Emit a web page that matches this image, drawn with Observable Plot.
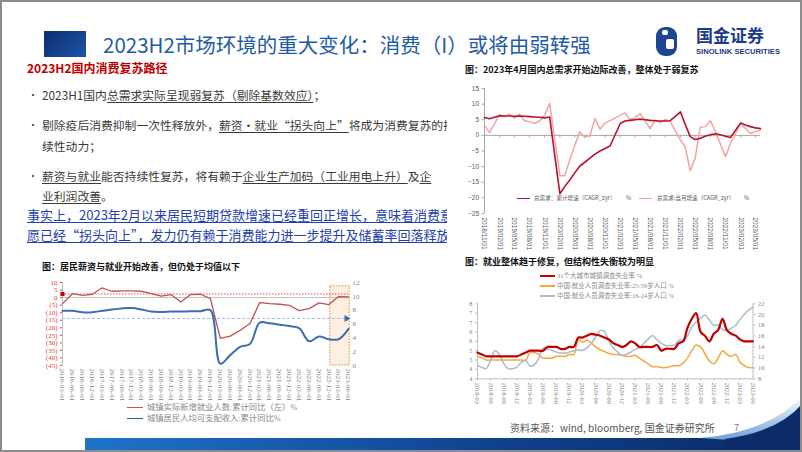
<!DOCTYPE html>
<html><head><meta charset="utf-8">
<script src="https://cdn.jsdelivr.net/npm/d3@7"></script>
<script src="https://cdn.jsdelivr.net/npm/@observablehq/plot@0.6"></script>
<style>
body{margin:0;background:#fff;}
#slide{position:relative;width:802px;height:452px;overflow:hidden;background:#fff;font-family:"Noto Sans CJK SC","Noto Sans",sans-serif;}
.abs{position:absolute;white-space:nowrap;}
.u{text-decoration:underline;text-underline-offset:2px;text-decoration-thickness:1px;}
.bul{color:#3a3a3a;font-size:11.8px;line-height:16px;}
.dot{color:#3a3a3a;font-size:10px;line-height:16px;}
.blue{color:#2340b0;font-size:13px;line-height:18px;}
.ct{font-size:9px;line-height:12px;font-weight:bold;color:#111;}
.lg{font-family:"Liberation Serif","Noto Sans CJK SC",serif;color:#8a8a8a;}
</style></head><body>
<div id="slide">
  <div class="abs" style="left:44px;top:31px;width:42px;height:26px;background:linear-gradient(135deg,#0c2c6e,#1c55a8);"></div>
  <div class="abs" style="left:103px;top:31px;font-size:20.5px;line-height:26px;color:#1f5ba6;">2023H2市场环境的重大变化：消费（I）或将由弱转强</div>
  <svg class="abs" style="left:656px;top:27px" width="22" height="30"><rect x="0" y="0" width="21" height="29" rx="9" fill="#1d4592"/><rect x="10" y="12" width="8" height="10" rx="2" fill="#fff"/><rect x="6" y="3" width="6" height="5" rx="2" fill="#fff"/></svg>
  <div class="abs" style="left:696px;top:24px;font-size:17px;line-height:22px;font-weight:bold;color:#1b3a8a;">国金证券</div>
  <div class="abs" style="left:696px;top:47px;font-family:'Liberation Sans',Arial,sans-serif;font-size:7.6px;line-height:9px;font-weight:bold;color:#1b3a8a;">SINOLINK SECURITIES</div>

  <div class="abs" style="left:27px;top:60px;font-size:12px;line-height:16px;font-weight:bold;color:#c00000;">2023H2国内消费复苏路径</div>
  <div class="abs dot" style="left:28px;top:87px">•</div>
  <div class="abs bul" style="left:42px;top:87px">2023H1国内<span class="u">总需求实际呈现弱复苏（剔除基数效应）</span>；</div>
  <div class="abs dot" style="left:28px;top:117px">•</div>
  <div class="abs bul" style="left:42px;top:117px">剔除疫后消费抑制一次性释放外，<span class="u">薪资•就业“拐头向上”</span>将成为消费复苏的持</div>
  <div class="abs bul" style="left:42px;top:138px">续性动力；</div>
  <div class="abs dot" style="left:28px;top:168px">•</div>
  <div class="abs bul" style="left:42px;top:168px"><span class="u">薪资与就业</span>能否持续性复苏，将有赖于<span class="u">企业生产加码（工业用电上升）</span>及<span class="u">企</span></div>
  <div class="abs bul" style="left:42px;top:188px"><span class="u">业利润改善</span>。</div>
  <div class="abs blue u" style="left:27px;top:206px">事实上，2023年2月以来居民短期贷款增速已经重回正增长，意味着消费意</div>
  <div class="abs blue u" style="left:27px;top:226px">愿已经“拐头向上”，发力仍有赖于消费能力进一步提升及储蓄率回落释放。</div>

  <div class="abs ct" style="left:42px;top:261px">图：居民薪资与就业开始改善，但仍处于均值以下</div>
  <div id="chartL" class="abs" style="left:0px;top:275px"></div>
  <div class="abs" style="left:127px;top:407px;width:16px;height:1.3px;background:#d05050"></div>
  <div class="abs lg" style="left:147px;top:402px;font-size:8.3px;line-height:11px">城镇实际新增就业人数:累计同比（左）%</div>
  <div class="abs" style="left:127px;top:417.5px;width:16px;height:1.8px;background:#2f5f9e"></div>
  <div class="abs lg" style="left:147px;top:413px;font-size:8.3px;line-height:11px">城镇居民人均可支配收入:累计同比%</div>

  <div class="abs" style="left:447px;top:62px;width:355px;height:372px;background:#fff"></div>
  <div class="abs ct" style="left:465px;top:64px">图：2023年4月国内总需求开始边际改善，整体处于弱复苏</div>
  <div id="chartTR" class="abs" style="left:447px;top:78px"></div>
  <div class="abs" style="left:517px;top:197.5px;width:13px;height:1.6px;background:#b5132e"></div>
  <div class="abs" style="left:534px;top:194.5px;font-size:5.6px;line-height:7px;color:#595959">总需求：累计增速（CAGR_2yr）</div>
  <div class="abs" style="left:626px;top:194.5px;font-size:5.6px;line-height:7px;color:#595959">%</div>
  <div class="abs" style="left:639px;top:197.5px;width:13px;height:1.6px;background:#f4a3a3"></div>
  <div class="abs" style="left:657px;top:194.5px;font-size:5.6px;line-height:7px;color:#595959">总需求:当月增速（CAGR_2yr）</div>
  <div class="abs" style="left:744px;top:194.5px;font-size:5.6px;line-height:7px;color:#595959">%</div>

  <div class="abs ct" style="left:465px;top:256px">图：就业整体趋于修复，但结构性失衡较为明显</div>
  <div class="abs" style="left:540px;top:274.7px;width:15px;height:2px;background:#c00000"></div>
  <div class="abs lg" style="left:557px;top:271.5px;font-size:6.5px;line-height:8px">31个大城市城镇调查失业率 %</div>
  <div class="abs" style="left:540px;top:285px;width:15px;height:1.5px;background:#f5a83c"></div>
  <div class="abs lg" style="left:557px;top:281.5px;font-size:6.5px;line-height:8px">中国:就业人员调查失业率:25-59岁人口 %</div>
  <div class="abs" style="left:540px;top:295px;width:15px;height:1.5px;background:#a9bccb"></div>
  <div class="abs lg" style="left:557px;top:291.5px;font-size:6.5px;line-height:8px">中国:就业人员调查失业率:16-24岁人口 %</div>
  <div id="chartBR" class="abs" style="left:447px;top:298px"></div>

  <div class="abs" style="left:510px;top:421px;font-size:10px;line-height:14px;color:#555">资料来源：wind, bloomberg, 国金证券研究所</div>
  <div class="abs" style="left:734px;top:421px;font-size:9px;line-height:14px;color:#777">7</div>

  <svg class="abs" style="left:0;top:0;pointer-events:none" width="802" height="452">
    <defs>
      <linearGradient id="bar" x1="0" x2="1" y1="0" y2="0"><stop offset="0" stop-color="#1e74c8"/><stop offset="0.6" stop-color="#0f3f8c"/><stop offset="1" stop-color="#0a2a66"/></linearGradient>
      <linearGradient id="sw" x1="0" x2="0" y1="0" y2="1"><stop offset="0" stop-color="#ffffff"/><stop offset="1" stop-color="#6f9fd6"/></linearGradient>
    </defs>
    <rect x="85" y="438" width="717" height="14" fill="url(#bar)"/>
    <path d="M700 438 Q770 432 802 396 L802 410 Q775 436 730 440 Z" fill="url(#sw)"/>
    <path d="M725 439 Q778 432 802 404 L802 452 L725 452 Z" fill="#0b2c68"/>
    <rect x="1" y="1" width="800" height="450" fill="none" stroke="#8c8c8c" stroke-width="2"/>
  </svg>
</div>
<script>
// ---------- Chart 1: 居民薪资与就业 (quarterly) ----------
const wageQuarters = ["2016-03-01","2016-06-01","2016-09-01","2016-12-01","2017-03-01","2017-06-01","2017-09-01","2017-12-01","2018-03-01","2018-06-01","2018-09-01","2018-12-01","2019-03-01","2019-06-01","2019-09-01","2019-12-01","2020-03-01","2020-06-01","2020-09-01","2020-12-01","2021-03-01","2021-06-01","2021-09-01","2021-12-01","2022-03-01","2022-06-01","2022-09-01","2022-12-01","2023-03-01","2023-06-01"];
const newJobsYoY = [-4.0,2.6,1.5,2.2,6.4,4.2,4.4,4.4,4.2,2.6,0.9,2.0,-2.9,2.0,2.2,-0.7,-27.0,-25.5,-21.6,-17.2,-3.3,-4.0,-4.4,-5.1,-8.6,-7.3,-3.5,-4.6,0.7,0.4];
const incomeYoY = [7.9,7.9,7.7,7.7,7.9,8.1,8.25,8.3,8.1,7.8,7.75,7.8,7.8,7.85,7.85,8.0,0.25,1.5,2.7,3.1,6.2,6.1,5.9,5.7,5.4,3.5,4.2,3.8,3.8,5.3];
const wageLeftTicks = [10,5,0,-5,-10,-15,-20,-25,-30,-35,-40,-45];
const wageRightTicks = [0,2,4,6,8,10,12];
const newJobsAvg = 2.4;
const incomeAvg = 6.8;
const wageHighlight = {from:"2022-12-15", to:"2023-06-12", top:7.5};

// ---------- Chart 2: 总需求 (monthly from 2018-11) ----------
const demandStart = [2018, 11];
const demandCum = [5.7,5.3,null,6.3,6.2,6.2,6.1,6.2,6.1,6.0,5.9,5.8,5.6,5.9,null,-18.7,-16.4,-14.3,-12.0,-9.8,-8.6,-7.3,-6.0,-5.0,-4.2,-3.4,null,3.8,4.6,4.8,5.0,5.2,5.0,4.8,4.7,4.6,4.6,4.7,null,7.5,3.6,-0.4,-1.3,-0.9,-0.3,0.2,0.5,0.2,-0.3,-0.7,null,4.0,3.3,2.8,2.4,2.2];
const demandMonth = [3.3,0.9,null,6.7,6.0,6.8,5.5,6.8,4.7,4.4,3.8,4.6,6.5,10.2,null,-12.9,-12.9,-7.8,-3.2,1.2,-0.6,0.0,5.4,2.0,4.0,4.7,null,6.4,7.2,5.1,5.6,7.0,4.6,2.2,4.9,4.1,5.1,4.4,null,-1.5,-3.6,-11.3,-7.3,2.6,2.8,4.7,1.2,-2.8,-6.8,-2.6,null,3.8,2.2,0.6,1.2,1.7];
const demandTicks = ["2018/11/01","2019/02/01","2019/05/01","2019/08/01","2019/11/01","2020/02/01","2020/05/01","2020/08/01","2020/11/01","2021/02/01","2021/05/01","2021/08/01","2021/11/01","2022/02/01","2022/05/01","2022/08/01","2022/11/01","2023/02/01","2023/05/01"];
const demandYTicks = [15,10,5,0,-5,-10,-15,-20,-25];

// ---------- Chart 3: 失业率 (monthly from 2018-03) ----------
const unempStart = [2018, 3];
const city31 = [4.9,4.8,4.7,4.7,4.7,4.7,4.7,4.7,4.7,4.7, 4.8,4.9,5.0,5.0,5.0,5.0,5.2,5.2,5.2,5.1,5.1,5.2, 5.2,5.7,5.7,5.8,5.9,5.85,5.8,5.7,5.6,5.4,5.3,5.2, 5.3,5.5,5.4,5.2,5.2,5.2,5.2,5.3,5.0,5.1,5.1,5.1, 5.4,5.5,6.2,6.7,7.0,6.0,5.8,5.5,5.9,6.1,6.7,6.1, 5.9,5.8,5.6,5.5,5.5,5.5];
const age25to59 = [4.7,4.6,4.5,4.5,4.5,4.5,4.5,4.5,4.5,4.5, 4.5,4.5,4.9,4.9,4.8,4.6,4.6,4.6,4.7,4.7,4.7,4.8, 4.8,5.6,5.45,5.55,5.4,5.2,5.05,4.95,4.85,4.8,4.8,4.75, 4.7,4.7,4.75,4.6,4.45,4.3,4.15,4.15,4.1,4.1,4.15,4.2, 4.2,4.35,4.6,5.0,5.3,5.2,4.85,4.45,4.3,4.6,5.0,4.8, 4.7,4.8,4.4,4.2,4.1,4.1];
const age16to24 = [10.5,10.1,9.9,11.5,13.3,12.5,10.8,9.9,9.9,10.2, 11.1,11.4,10.4,10.6,11.8,13.7,13.6,13.3,13.0,12.8,12.8,13.0, 13.2,13.4,13.3,13.8,14.6,15.8,17.0,16.8,15.0,13.8,13.0,12.4, 12.6,13.0,13.5,13.8,14.6,15.4,16.1,15.3,14.6,14.2,14.2,14.3, 15.2,15.3,16.0,17.7,18.6,19.3,19.9,19.0,18.0,18.0,17.2,17.0, 17.4,18.0,19.0,20.0,20.8,21.4];
const unempTicks = ["2018-03","2018-06","2018-09","2018-12","2019-03","2019-06","2019-09","2019-12","2020-03","2020-06","2020-09","2020-12","2021-03","2021-06","2021-09","2021-12","2022-03","2022-06","2022-09","2022-12","2023-03","2023-06"];
const unempLeftTicks = [3.5,4,4.5,5,5.5,6,6.5,7,7.5];
const unempRightTicks = [8,10,12,14,16,18,20,22];

// ---------- helpers ----------
const utc = s => new Date(s + "T00:00:00Z");
const months = (start, n) => Array.from({length:n}, (_, i) => new Date(Date.UTC(start[0], start[1] - 1 + i, 1)));

// Chart 1
{
  const yL = [-45, 10], yR = [0, 12];
  const toL = r => yL[0] + (r - yR[0]) * (yL[1] - yL[0]) / (yR[1] - yR[0]);
  const fromL = l => yR[0] + (l - yL[0]) * (yR[1] - yR[0]) / (yL[1] - yL[0]);
  const dates = wageQuarters.map(utc);
  const rows = dates.map((d, i) => ({date: d, jobs: newJobsYoY[i], inc: toL(incomeYoY[i])}));
  const x0 = dates[0], x1 = dates[dates.length - 1];
  const chart = Plot.plot({
    width: 380, height: 125, marginLeft: 62, marginRight: 32, marginTop: 7, marginBottom: 35,
    x: {type: "utc", domain: [x0, x1]},
    y: {domain: yL, label: null},
    style: {fontFamily: "Liberation Serif, serif", fontSize: "7px", color: "#7f7f7f", background: "transparent", overflow: "visible"},
    marks: [
      Plot.rect([wageHighlight], {x1: d => utc(d.from), x2: d => utc(d.to), y1: yL[0], y2: d => d.top, fill: "#fdefe2", stroke: "#e58a2e", strokeWidth: 1, strokeDasharray: "1.5,1.5"}),
      Plot.ruleY([0], {stroke: "#bfbfbf"}),
      Plot.ruleX([x0], {stroke: "#bfbfbf"}),
      Plot.ruleY([newJobsAvg], {stroke: "#e05050", strokeDasharray: "1.5,1.5"}),
      Plot.ruleY([toL(incomeAvg)], {stroke: "#9fbde3", strokeDasharray: "3,2"}),
      Plot.line(rows, {x: "date", y: "jobs", stroke: "#c0504d", strokeWidth: 1.3}),
      Plot.line(rows, {x: "date", y: "inc", stroke: "#3a6db5", strokeWidth: 2, curve: "catmull-rom"}),
      Plot.dot([newJobsAvg], {x: () => x0, y: d => d, symbol: "square", r: 2.3, fill: "#c00000"}),
      Plot.dot([incomeAvg], {x: () => x1, y: d => toL(d), symbol: "triangle", rotate: 90, r: 2.6, fill: "#3a6db5", dx: -2}),
      Plot.axisY(wageLeftTicks, {anchor: "left", label: null, tickSize: 2, tickPadding: 3, color: "#e0403c", tickFormat: v => v < 0 ? `(${-v})` : `${v}`}),
      Plot.axisY(wageRightTicks.map(toL), {anchor: "right", label: null, tickSize: 0, tickPadding: 4, tickFormat: v => `${Math.round(fromL(v))}`}),
      Plot.axisX(dates, {label: null, tickRotate: 90, tickSize: 0, tickPadding: 3, tickFormat: d3.utcFormat("%Y-%m-%d")})
    ]
  });
  document.getElementById("chartL").append(chart);
}

// Chart 2
{
  const dates = months(demandStart, demandCum.length);
  const rows = dates.map((d, i) => ({date: d, cum: demandCum[i], mon: demandMonth[i]}));
  const tickDates = demandTicks.map(s => utc(s.replace(/\//g, "-")));
  const chart = Plot.plot({
    width: 340, height: 175, marginLeft: 37, marginRight: 27, marginTop: 10, marginBottom: 40,
    x: {type: "utc", domain: [dates[0], dates[dates.length - 1]]},
    y: {domain: [-25, 15], label: null},
    style: {fontFamily: "Liberation Sans, Arial, sans-serif", fontSize: "6.5px", color: "#595959", background: "transparent", overflow: "visible"},
    marks: [
      Plot.ruleY([0], {stroke: "#a6a6a6"}),
      Plot.ruleX([dates[0]], {y1: -25, y2: 15, stroke: "#a6a6a6"}),
      Plot.ruleX(tickDates, {y1: 0, y2: -0.8, stroke: "#a6a6a6"}),
      Plot.line(rows.filter(d => d.mon != null), {x: "date", y: "mon", stroke: "#f4a3a3", strokeWidth: 1.5}),
      Plot.line(rows.filter(d => d.cum != null), {x: "date", y: "cum", stroke: "#b5132e", strokeWidth: 1.6}),
      Plot.axisY(demandYTicks, {anchor: "left", label: null, tickSize: 2.5, tickPadding: 3, stroke: "#a6a6a6", fill: "#595959"}),
      Plot.axisX(tickDates, {label: null, tickRotate: 90, tickSize: 0, tickPadding: 4, tickFormat: d3.utcFormat("%Y/%m/%d")})
    ]
  });
  document.getElementById("chartTR").append(chart);
}

// Chart 3
{
  const yL = [3.5, 7.5], yR = [8, 22];
  const toL = r => yL[0] + (r - yR[0]) * (yL[1] - yL[0]) / (yR[1] - yR[0]);
  const fromL = l => yR[0] + (l - yL[0]) * (yR[1] - yR[0]) / (yL[1] - yL[0]);
  const dates = months(unempStart, city31.length);
  const rows = dates.map((d, i) => ({date: d, c: city31[i], p: age25to59[i], y: toL(age16to24[i])}));
  const tickDates = unempTicks.map(s => utc(s + "-01"));
  const chart = Plot.plot({
    width: 340, height: 105, marginLeft: 30, marginRight: 34.5, marginTop: 5.3, marginBottom: 24.7,
    x: {type: "utc", domain: [dates[0], dates[dates.length - 1]]},
    y: {domain: yL, label: null},
    style: {fontFamily: "Liberation Serif, serif", fontSize: "6.3px", color: "#7f7f7f", background: "transparent", overflow: "visible"},
    marks: [
      Plot.ruleY([yL[0]], {stroke: "#bfbfbf"}),
      Plot.ruleX([dates[0], dates[dates.length - 1]], {y1: yL[0], y2: yL[1], stroke: "#bfbfbf"}),
      Plot.line(rows, {x: "date", y: "p", stroke: "#f5a83c", strokeWidth: 1.5, curve: "catmull-rom"}),
      Plot.line(rows, {x: "date", y: "y", stroke: "#a9bccb", strokeWidth: 1.5, curve: "catmull-rom"}),
      Plot.line(rows, {x: "date", y: "c", stroke: "#c00000", strokeWidth: 2.2, curve: "catmull-rom"}),
      Plot.axisY(unempLeftTicks, {anchor: "left", label: null, tickSize: 2, tickPadding: 3, stroke: "#bfbfbf", fill: "#7f7f7f"}),
      Plot.axisY(unempRightTicks.map(toL), {anchor: "right", label: null, tickSize: 2, tickPadding: 3, stroke: "#bfbfbf", fill: "#7f7f7f", tickFormat: v => `${Math.round(fromL(v))}`}),
      Plot.axisX(tickDates, {label: null, tickRotate: 90, tickSize: 2, tickPadding: 2, stroke: "#bfbfbf", fill: "#7f7f7f", tickFormat: d3.utcFormat("%Y-%m")})
    ]
  });
  document.getElementById("chartBR").append(chart);
}
</script>
</body></html>
